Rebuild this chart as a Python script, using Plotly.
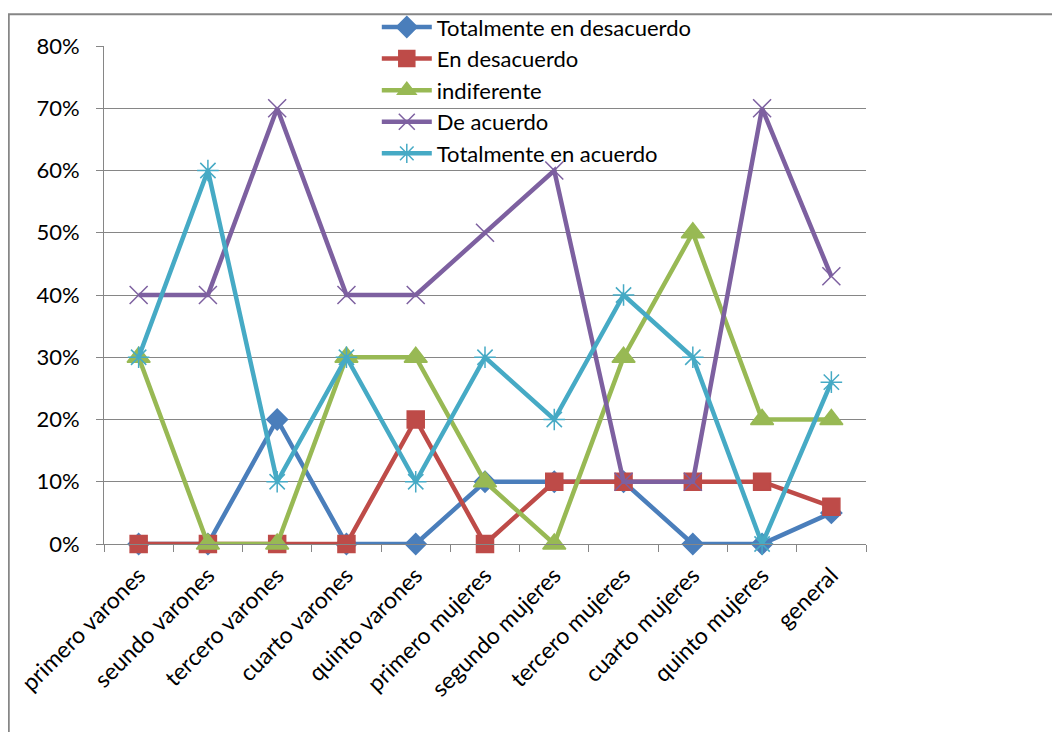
import plotly.graph_objects as go

# categorías y series
categorias = ["primero varones", "seundo varones", "tercero varones", "cuarto varones",
              "quinto varones", "primero mujeres", "segundo mujeres", "tercero mujeres",
              "cuarto mujeres", "quinto mujeres", "general"]

tot_desacuerdo = [0.00, 0.00, 0.20, 0.00, 0.00, 0.10, 0.10, 0.10, 0.00, 0.00, 0.05]
en_desacuerdo  = [0.00, 0.00, 0.00, 0.00, 0.20, 0.00, 0.10, 0.10, 0.10, 0.10, 0.06]
indiferente    = [0.30, 0.00, 0.00, 0.30, 0.30, 0.10, 0.00, 0.30, 0.50, 0.20, 0.20]
de_acuerdo     = [0.40, 0.40, 0.70, 0.40, 0.40, 0.50, 0.60, 0.10, 0.10, 0.70, 0.43]
tot_acuerdo    = [0.30, 0.60, 0.10, 0.30, 0.10, 0.30, 0.20, 0.40, 0.30, 0.00, 0.26]

series = [
    ("Totalmente en desacuerdo", tot_desacuerdo, "#4A7EBB", "diamond", 16),
    ("En desacuerdo",            en_desacuerdo,  "#BE4B48", "square", 17),
    ("indiferente",              indiferente,    "#98B954", "triangle-up", 20),
    ("De acuerdo",               de_acuerdo,     "#7D60A0", "x-thin-open", 18),
    ("Totalmente en acuerdo",    tot_acuerdo,    "#46AAC5", "asterisk-open", 18),
]

fig = go.Figure()
for i, (nombre, vals, color, simbolo, tam) in enumerate(series):
    fig.add_trace(go.Scatter(
        x=categorias, y=vals, name=nombre, mode="lines+markers",
        legendgroup=f"g{i}", cliponaxis=False,
        line=dict(color=color, width=4.5),
        marker=dict(symbol=simbolo, size=tam, color=color,
                    line=dict(color=color, width=1.5)),
    ))

fuente = dict(family="Lato, Carlito, sans-serif", size=22, color="#000000")

fig.update_layout(
    width=1060, height=732,
    margin=dict(l=96, r=202, t=38, b=196, autoexpand=False),
    paper_bgcolor="white", plot_bgcolor="white",
    font=fuente,
    showlegend=True,
    legend=dict(x=0.358, y=1.08, xanchor="left", yanchor="top",
                bgcolor="rgba(0,0,0,0)", font=fuente,
                tracegroupgap=0, itemwidth=50),
    xaxis=dict(range=[-0.5, 10.5], tickangle=-45, showgrid=False,
               showline=True, linecolor="#868686", linewidth=1,
               ticks="outside", tickson="boundaries", ticklen=7,
               tickcolor="#868686", tickfont=dict(fuente, size=23),
               ticklabelstandoff=8),
    yaxis=dict(range=[0, 0.8], dtick=0.1, tickformat=".0%",
               showgrid=True, gridcolor="#868686", gridwidth=1,
               showline=True, linecolor="#868686", linewidth=1,
               ticks="outside", ticklen=7, tickcolor="#868686",
               zeroline=False, tickfont=fuente, ticklabelstandoff=12),
)

# marco exterior del gráfico
fig.add_shape(type="rect", xref="paper", yref="paper",
              x0=-0.125, x1=1.5, y0=-1.0, y1=1.064,
              line=dict(color="#868686", width=2), layer="below")

fig.write_html("out.html")
